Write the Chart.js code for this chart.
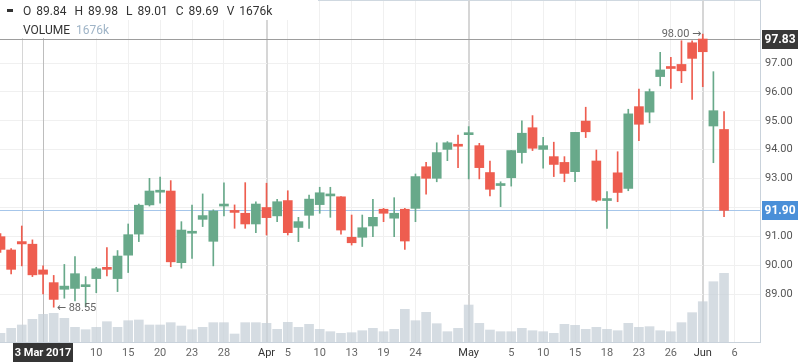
<!DOCTYPE html>
<html>
<head>
<meta charset="utf-8">
<script src="https://cdn.jsdelivr.net/npm/chart.js@4.4.1/dist/chart.umd.min.js"></script>
<style>
  html, body { margin: 0; padding: 0; background: #fff; }
</style>
</head>
<body>
<canvas id="chart" width="798" height="363"></canvas>
<script>
// trading days, 27 Feb - 5 Jun 2017
const dates = [
  '2017-02-27', '2017-02-28', '2017-03-01', '2017-03-02', '2017-03-03', '2017-03-06', '2017-03-07', '2017-03-08',
  '2017-03-09', '2017-03-10', '2017-03-13', '2017-03-14', '2017-03-15', '2017-03-16', '2017-03-17', '2017-03-20',
  '2017-03-21', '2017-03-22', '2017-03-23', '2017-03-24', '2017-03-27', '2017-03-28', '2017-03-29', '2017-03-30',
  '2017-03-31', '2017-04-03', '2017-04-04', '2017-04-05', '2017-04-06', '2017-04-07', '2017-04-10', '2017-04-11',
  '2017-04-12', '2017-04-13', '2017-04-17', '2017-04-18', '2017-04-19', '2017-04-20', '2017-04-21', '2017-04-24',
  '2017-04-25', '2017-04-26', '2017-04-27', '2017-04-28', '2017-05-01', '2017-05-02', '2017-05-03', '2017-05-04',
  '2017-05-05', '2017-05-08', '2017-05-09', '2017-05-10', '2017-05-11', '2017-05-12', '2017-05-15', '2017-05-16',
  '2017-05-17', '2017-05-18', '2017-05-19', '2017-05-22', '2017-05-23', '2017-05-24', '2017-05-25', '2017-05-26',
  '2017-05-30', '2017-05-31', '2017-06-01', '2017-06-02', '2017-06-05'
]

const open = [
  90.99, 90.53, 90.82, 90.73, 89.84, 89.40, 89.17, 89.20, 89.26, 89.54, 89.93, 89.54, 90.35, 91.08, 92.09, 92.53,
  92.57, 90.09, 91.11, 91.59, 90.83, 92.05, 91.88, 91.80, 91.43, 92.00, 91.71, 92.24, 91.31, 91.73, 92.10, 92.40,
  92.37, 90.97, 90.97, 91.36, 91.94, 91.63, 91.94, 91.97, 93.41, 93.01, 94.01, 94.14, 94.52, 94.14, 93.21, 92.76,
  93.03, 93.90, 94.76, 94.01, 93.76, 93.56, 93.24, 94.99, 93.61, 92.24, 93.20, 92.66, 95.49, 95.30, 96.53, 96.83,
  96.95, 97.70, 97.83, 94.82, 94.70
]
const high = [
  91.10, 90.58, 91.36, 90.88, 89.98, 89.65, 90.03, 90.30, 89.61, 89.93, 90.61, 90.51, 91.43, 92.12, 93.01, 93.05,
  92.93, 91.51, 92.08, 92.47, 91.92, 92.85, 92.09, 92.86, 92.20, 92.84, 92.28, 92.58, 91.66, 92.43, 92.70, 92.70,
  92.38, 91.74, 91.74, 92.28, 91.97, 92.34, 91.97, 93.16, 93.56, 94.24, 94.28, 94.51, 94.80, 94.22, 93.61, 92.89,
  93.97, 95.00, 95.18, 94.43, 94.26, 93.76, 94.60, 95.47, 93.99, 92.55, 93.93, 95.40, 96.10, 96.10, 97.37, 97.20,
  97.77, 97.77, 98.00, 96.70, 95.32
]
const low = [
  90.45, 89.70, 89.98, 89.61, 89.01, 88.55, 88.86, 88.77, 88.57, 89.05, 89.63, 89.09, 89.75, 90.82, 92.05, 92.15,
  89.95, 89.90, 90.24, 91.34, 89.98, 91.71, 91.28, 91.28, 91.13, 91.05, 91.51, 91.05, 90.82, 91.28, 91.80, 91.66,
  91.08, 90.70, 90.65, 90.99, 91.51, 90.99, 90.55, 91.51, 92.46, 92.89, 93.62, 93.38, 92.99, 92.99, 92.40, 92.03,
  92.74, 93.53, 93.97, 93.36, 93.07, 92.89, 92.89, 94.42, 92.20, 91.28, 92.20, 92.58, 94.31, 94.93, 96.21, 96.12,
  96.32, 95.74, 96.18, 93.55, 91.68
]
const close = [
  90.55, 89.86, 90.74, 89.67, 89.69, 88.82, 89.28, 89.71, 89.29, 89.88, 89.86, 90.32, 91.06, 92.08, 92.57, 92.57,
  90.12, 91.22, 91.15, 91.72, 91.88, 92.12, 91.83, 91.43, 92.12, 91.65, 92.20, 91.13, 91.51, 92.29, 92.51, 92.42,
  91.22, 90.78, 91.30, 91.66, 91.80, 91.80, 90.84, 93.07, 93.01, 93.90, 94.24, 94.12, 94.54, 93.38, 92.63, 92.80,
  93.97, 94.57, 94.05, 94.14, 93.49, 93.18, 94.60, 94.62, 92.25, 92.27, 92.52, 95.24, 94.88, 96.01, 96.76, 96.81,
  96.73, 97.16, 97.39, 95.35, 91.90
]
// volume in thousands
const volume = [
  526, 828, 1029, 1373, 1676, 1736, 1434, 889, 745, 889, 1230, 889, 1290, 1331, 1029, 1029,
  1170, 968, 745, 889, 1170, 1170, 484, 1170, 1170, 1130, 767, 1190, 889, 1070, 767, 624,
  526, 564, 685, 828, 624, 767, 1978, 1290, 1797, 1109, 624, 828, 2239, 1130, 726, 624,
  624, 828, 685, 624, 526, 1070, 1009, 767, 889, 767, 685, 1130, 889, 928, 685, 624,
  1170, 1776, 2440, 3650, 4157
]

// x ticks (trading-day index) and their labels, month starts get the darker line
const tickIdx = [0, 2, 3, 6, 9, 12, 15, 18, 21, 24, 25, 27, 30, 33, 36, 39, 42, 44, 45, 48, 51, 54, 57, 60, 63, 66, 69]
const tickText = ['', '', '', '', '10', '15', '20', '23', '28', '', 'Apr', '5', '10', '13', '19', '24', '', 'May', '', '5', '10', '15', '18', '23', '26', 'Jun', '6']
const monthIdx = [2, 25, 44, 66]

const crossIdx = 4
const crossLabel = '3 Mar 2017'
const crossPrice = 97.83

const UP = '#68a98a'
const DOWN = '#ee5d4f'
const FONT = 'Roboto, "DejaVu Sans", sans-serif'

const candleColors = open.map((o, i) => close[i] >= o ? UP : DOWN)
const lastIdx = close.length - 1
const hiIdx = high.indexOf(Math.max(...high))
const loIdx = low.indexOf(Math.min(...low))

function hline(ctx, x1, x2, y, color) {
  ctx.strokeStyle = color
  ctx.lineWidth = 1
  ctx.beginPath()
  ctx.moveTo(x1, y)
  ctx.lineTo(x2, y)
  ctx.stroke()
}

function priceBox(ctx, x, y, text, bg) {
  ctx.fillStyle = bg
  ctx.fillRect(x, Math.round(y) - 9, 36, 19)
  ctx.fillStyle = '#fff'
  ctx.font = 'bold 12px ' + FONT
  ctx.textAlign = 'center'
  ctx.textBaseline = 'middle'
  ctx.fillText(text, x + 18, Math.round(y) + 1)
}

const overlay = {
  id: 'overlay',
  beforeDatasetsDraw(chart) {
    const { ctx, chartArea: a, scales } = chart
    const x = scales.x, y = scales.y
    ctx.save()
    hline(ctx, a.left, a.right, a.top + 0.5, '#cfd8e0')
    // month separators + crosshair
    monthIdx.concat([crossIdx]).forEach(i => {
      const px = Math.round(x.getPixelForValue(i)) + 0.5
      ctx.strokeStyle = i === crossIdx ? '#bdbdbd' : '#d6d6d6'
      ctx.beginPath()
      ctx.moveTo(px, a.top)
      ctx.lineTo(px, a.bottom)
      ctx.stroke()
    })
    hline(ctx, a.left, a.right, Math.round(y.getPixelForValue(crossPrice)) + 0.5, '#9d9d9d')
    hline(ctx, a.left, a.right, Math.round(y.getPixelForValue(close[lastIdx])) + 0.5, '#a6c6ea')
    ctx.restore()
  },
  afterDraw(chart) {
    const { ctx, chartArea: a, scales } = chart
    const x = scales.x, y = scales.y
    ctx.save()

    // legend rows
    ctx.fillStyle = '#fff'
    ctx.fillRect(0, 0, 318, 20)
    ctx.fillRect(0, 20, 112, 18)
    ctx.fillStyle = '#333'
    ctx.fillRect(7, 9, 6, 3)
    ctx.font = '12px ' + FONT
    ctx.textAlign = 'left'
    ctx.textBaseline = 'middle'
    const parts = [
      ['O', open[crossIdx].toFixed(2)],
      ['H', high[crossIdx].toFixed(2)],
      ['L', low[crossIdx].toFixed(2)],
      ['C', close[crossIdx].toFixed(2)],
      ['V', volume[crossIdx] + 'k']
    ]
    let hx = 23
    parts.forEach(([k, v]) => {
      ctx.fillText(k, hx, 12)
      hx += ctx.measureText(k).width + 5
      ctx.fillText(v, hx, 12)
      hx += ctx.measureText(v).width + 8
    })
    ctx.fillText('VOLUME', 23, 31)
    const vw = ctx.measureText('VOLUME').width
    ctx.fillStyle = '#9fb4c7'
    ctx.fillText(volume[crossIdx] + 'k', 23 + vw + 6, 31)

    // high / low markers
    ctx.font = '11px ' + FONT
    ctx.fillStyle = '#666'
    ctx.textAlign = 'right'
    ctx.fillText(high[hiIdx].toFixed(2) + ' \u2192', x.getPixelForValue(hiIdx) - 1.5, y.getPixelForValue(high[hiIdx]))
    ctx.textAlign = 'left'
    ctx.fillText('\u2190 ' + low[loIdx].toFixed(2), x.getPixelForValue(loIdx) + 3, y.getPixelForValue(low[loIdx]) + 1.5)

    // price boxes on the right axis
    priceBox(ctx, a.right + 2, y.getPixelForValue(crossPrice), crossPrice.toFixed(2), '#383838')
    priceBox(ctx, a.right + 2, y.getPixelForValue(close[lastIdx]), close[lastIdx].toFixed(2), '#4a8fd8')

    // crosshair date label
    const cx = Math.round(x.getPixelForValue(crossIdx))
    ctx.fillStyle = '#353535'
    ctx.fillRect(cx - 30, a.bottom + 1, 60, 19)
    ctx.fillStyle = '#fff'
    ctx.font = 'bold 11px ' + FONT
    ctx.textAlign = 'center'
    ctx.fillText(crossLabel, cx, a.bottom + 11)
    ctx.restore()
  }
}

new Chart(document.getElementById('chart'), {
  type: 'bar',
  data: {
    datasets: [
      {
        label: 'Candle',
        yAxisID: 'y',
        data: dates.map((d, i) => ({ x: i, y: [open[i], close[i]] })),
        backgroundColor: candleColors,
        barThickness: 9,
        minBarLength: 2,
        grouped: false,
        order: 1
      },
      {
        label: 'Wick',
        yAxisID: 'y',
        data: dates.map((d, i) => ({ x: i, y: [low[i], high[i]] })),
        backgroundColor: candleColors,
        barThickness: 1,
        grouped: false,
        order: 2
      },
      {
        label: 'Volume',
        yAxisID: 'vol',
        data: dates.map((d, i) => ({ x: i, y: volume[i] })),
        backgroundColor: 'rgba(199, 208, 216, 0.75)',
        barThickness: 9,
        grouped: false,
        order: 3
      }
    ]
  },
  options: {
    responsive: false,
    animation: false,
    events: [],
    layout: { padding: 0 },
    plugins: {
      legend: { display: false },
      tooltip: { enabled: false }
    },
    scales: {
      x: {
        type: 'linear',
        min: -0.047,
        max: 71.38,
        offset: false,
        grid: {
          offset: false,
          drawTicks: false,
          color: ctx => ctx.tick && monthIdx.includes(ctx.tick.value) ? '#d6d6d6' : '#f0f0f0'
        },
        border: { color: '#c9d2db' },
        afterBuildTicks: scale => { scale.ticks = tickIdx.map(v => ({ value: v })) },
        afterFit: scale => {
          scale.height = 21
          scale.paddingLeft = 0
          scale.paddingRight = 0
        },
        ticks: {
          autoSkip: false,
          maxRotation: 0,
          padding: 5,
          font: { size: 11, family: FONT },
          color: ctx => ctx.tick && monthIdx.includes(ctx.tick.value) ? '#333' : '#666',
          callback: (v, i) => tickText[i] || null
        }
      },
      y: {
        position: 'right',
        min: 87.346,
        max: 99.18,
        grid: { color: '#f0f0f0', drawTicks: false },
        border: { color: '#c9d2db' },
        afterFit: scale => {
          scale.width = 38
          scale.paddingTop = 0
          scale.paddingBottom = 0
        },
        ticks: {
          stepSize: 1,
          includeBounds: false,
          padding: 5,
          font: { size: 11, family: FONT },
          color: '#555',
          callback: v => (v >= 89 && v <= 97) ? v.toFixed(2) : null
        }
      },
      vol: {
        display: false,
        min: 0,
        max: 20700
      }
    }
  },
  plugins: [overlay]
})
</script>
</body>
</html>
